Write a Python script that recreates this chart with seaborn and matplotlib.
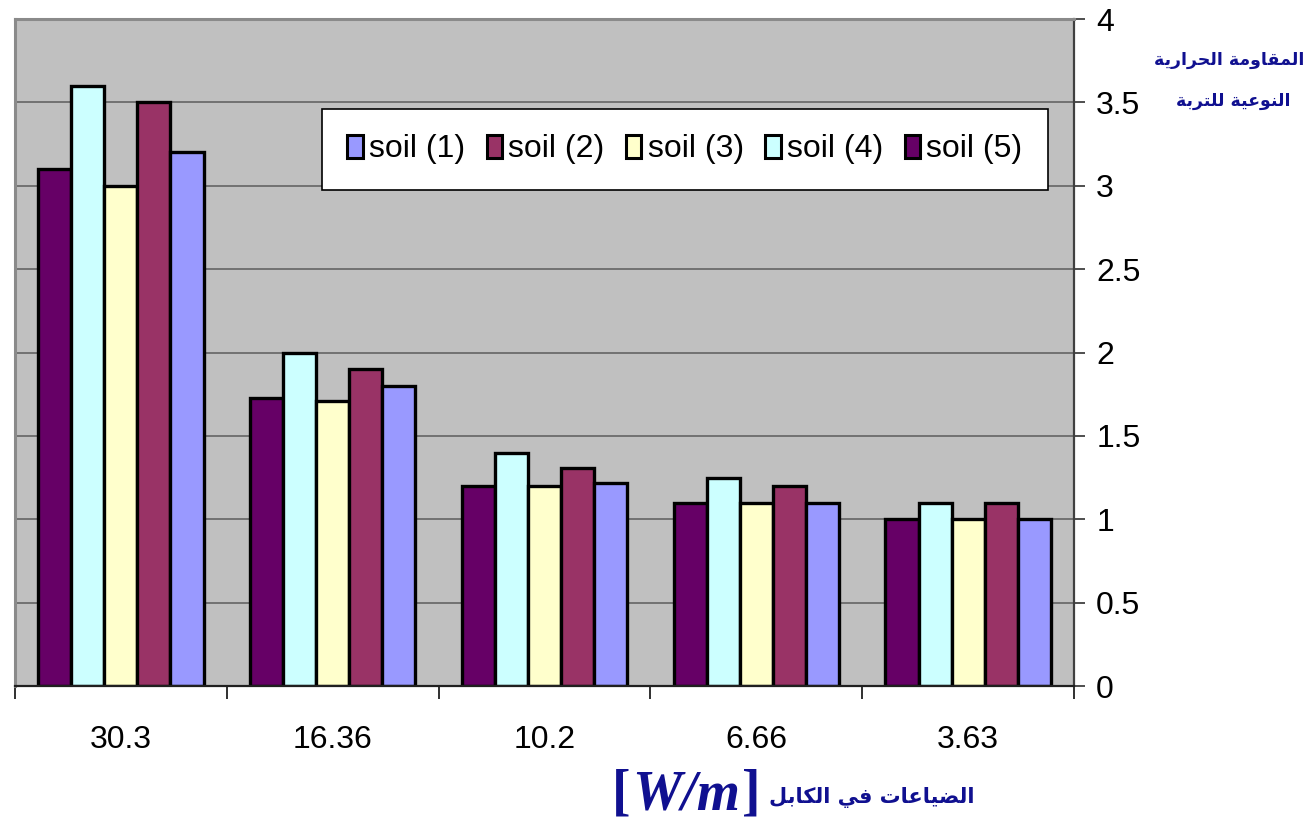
import numpy as np
import pandas as pd
import matplotlib
matplotlib.use("Agg")
import matplotlib.pyplot as plt
import seaborn as sns
from matplotlib.patches import Patch

# Cable losses [W/m] (category axis, left to right)
losses = ["30.3", "16.36", "10.2", "6.66", "3.63"]

# Soil thermal resistivity for each soil type
soil_1 = [3.2, 1.8, 1.22, 1.1, 1.0]
soil_2 = [3.5, 1.9, 1.31, 1.2, 1.1]
soil_3 = [3.0, 1.71, 1.2, 1.1, 1.0]
soil_4 = [3.6, 2.0, 1.4, 1.25, 1.1]
soil_5 = [3.1, 1.73, 1.2, 1.1, 1.0]

series_names = ["soil (1)", "soil (2)", "soil (3)", "soil (4)", "soil (5)"]
series_colors = ["#9999FF", "#993366", "#FFFFCC", "#CCFFFF", "#660066"]

y_ticks = [0, 0.5, 1, 1.5, 2, 2.5, 3, 3.5, 4]

ylabel_line1 = "المقاومة الحرارية"
ylabel_line2 = "النوعية للتربة"
xlabel_ar = "الضياعات في الكابل"
xlabel_unit = "W/m"

# ---------------------------------------------------------------------------
# Minimal Arabic shaping: contextual presentation forms + visual order
_FORMS = {
    "ا": ("\uFE8D", "\uFE8E", None, None),
    "ب": ("\uFE8F", "\uFE90", "\uFE91", "\uFE92"),
    "ة": ("\uFE93", "\uFE94", None, None),
    "ت": ("\uFE95", "\uFE96", "\uFE97", "\uFE98"),
    "ح": ("\uFEA1", "\uFEA2", "\uFEA3", "\uFEA4"),
    "ر": ("\uFEAD", "\uFEAE", None, None),
    "ض": ("\uFEBD", "\uFEBE", "\uFEBF", "\uFEC0"),
    "ع": ("\uFEC9", "\uFECA", "\uFECB", "\uFECC"),
    "ف": ("\uFED1", "\uFED2", "\uFED3", "\uFED4"),
    "ق": ("\uFED5", "\uFED6", "\uFED7", "\uFED8"),
    "ك": ("\uFED9", "\uFEDA", "\uFEDB", "\uFEDC"),
    "ل": ("\uFEDD", "\uFEDE", "\uFEDF", "\uFEE0"),
    "م": ("\uFEE1", "\uFEE2", "\uFEE3", "\uFEE4"),
    "ن": ("\uFEE5", "\uFEE6", "\uFEE7", "\uFEE8"),
    "و": ("\uFEED", "\uFEEE", None, None),
    "ي": ("\uFEF1", "\uFEF2", "\uFEF3", "\uFEF4"),
}


def shape_arabic(text):
    out = []
    n = len(text)
    for i, ch in enumerate(text):
        forms = _FORMS.get(ch)
        if forms is None:
            out.append(ch)
            continue
        prev = text[i - 1] if i > 0 else ""
        nxt = text[i + 1] if i + 1 < n else ""
        joins_prev = prev in _FORMS and _FORMS[prev][2] is not None
        joins_next = nxt in _FORMS and forms[2] is not None
        if joins_prev and joins_next:
            out.append(forms[3])
        elif joins_prev:
            out.append(forms[1])
        elif joins_next:
            out.append(forms[2])
        else:
            out.append(forms[0])
    return "".join(reversed(out))


# ---------------------------------------------------------------------------
df = pd.DataFrame({
    "loss": losses * 5,
    "soil": sum([[name] * len(losses) for name in series_names], []),
    "value": soil_1 + soil_2 + soil_3 + soil_4 + soil_5,
})

W, H = 1307, 832
fig = plt.figure(figsize=(W / 100, H / 100), dpi=100)
fig.patch.set_facecolor("white")
ax = fig.add_axes([15 / W, (H - 686) / H, (1074 - 15) / W, (686 - 19) / H])

sns.barplot(
    data=df, x="loss", y="value", hue="soil",
    order=losses, hue_order=series_names[::-1],
    palette=dict(zip(series_names, series_colors)),
    saturation=1, width=0.78, gap=0, errorbar=None,
    edgecolor="black", linewidth=2.4, legend=False, ax=ax,
)

ax.set_facecolor("#C0C0C0")
ax.set_xlim(-0.5, 4.5)
ax.set_ylim(0, 4)
ax.set_xlabel("")
ax.set_ylabel("")

# value axis on the right
ax.yaxis.tick_right()
ax.set_yticks(y_ticks)
ax.set_yticklabels([f"{v:g}" for v in y_ticks])
ax.grid(axis="y", color="#5c5c5c", linewidth=1.1)
ax.grid(axis="x", visible=False)
ax.set_axisbelow(True)
ax.tick_params(axis="y", which="major", direction="out", length=8, width=1.3,
               color="#404040", pad=8, labelsize=23)

# category axis: labels centered, tick marks between groups
ax.set_xticks(range(len(losses)))
ax.set_xticklabels(losses)
ax.set_xticks(np.arange(-0.5, len(losses), 1.0), minor=True)
ax.tick_params(axis="x", which="major", length=0, pad=28, labelsize=23)
ax.tick_params(axis="x", which="minor", direction="out", length=9, width=1.3,
               color="#202020")
for lab in ax.get_xticklabels() + ax.get_yticklabels():
    lab.set_fontfamily("Liberation Sans")
    lab.set_color("black")

for side in ("top", "left"):
    ax.spines[side].set_color("#8a8a8a")
    ax.spines[side].set_linewidth(2.2)
ax.spines["right"].set_color("#404040")
ax.spines["right"].set_linewidth(1.6)
ax.spines["bottom"].set_color("#202020")
ax.spines["bottom"].set_linewidth(1.6)

# legend in series order
handles = [Patch(facecolor=c, edgecolor="black", linewidth=2.2) for c in series_colors]
leg = ax.legend(
    handles, series_names, loc="center", bbox_to_anchor=(0.6327, 0.8044),
    ncol=5, frameon=True, fancybox=False, framealpha=1, edgecolor="black",
    prop={"family": "Liberation Sans", "size": 23},
    handlelength=0.48, handleheight=0.72, handletextpad=0.2,
    columnspacing=0.67, borderpad=0.8, borderaxespad=0,
)
leg.get_frame().set_linewidth(1.2)

# axis titles
title_color = "#101090"
ar_font = {"family": "DejaVu Sans", "weight": "bold", "color": title_color}
fig.text(1229 / W, 1 - 60 / H, shape_arabic(ylabel_line1), ha="center", va="center",
         fontsize=12.5, **ar_font)
fig.text(1233 / W, 1 - 101 / H, shape_arabic(ylabel_line2), ha="center", va="center",
         fontsize=12.5, **ar_font)
fig.text(872 / W, 1 - 797 / H, shape_arabic(xlabel_ar), ha="center", va="center",
         fontsize=15, **ar_font)

# unit in brackets: upright brackets around a bold italic W/m
unit_kw = dict(family="Liberation Serif", weight="bold", color=title_color,
               fontsize=40, va="center")
unit = fig.text(686 / W, 1 - 795 / H, xlabel_unit, ha="center", style="italic", **unit_kw)
renderer = fig.canvas.get_renderer()
bb = unit.get_window_extent(renderer)
fig.text((bb.x0 - 2) / W, 1 - 795 / H, "[", ha="right", **unit_kw)
fig.text((bb.x1 + 2) / W, 1 - 795 / H, "]", ha="left", **unit_kw)

fig.savefig("out.png", dpi=100, facecolor="white")
